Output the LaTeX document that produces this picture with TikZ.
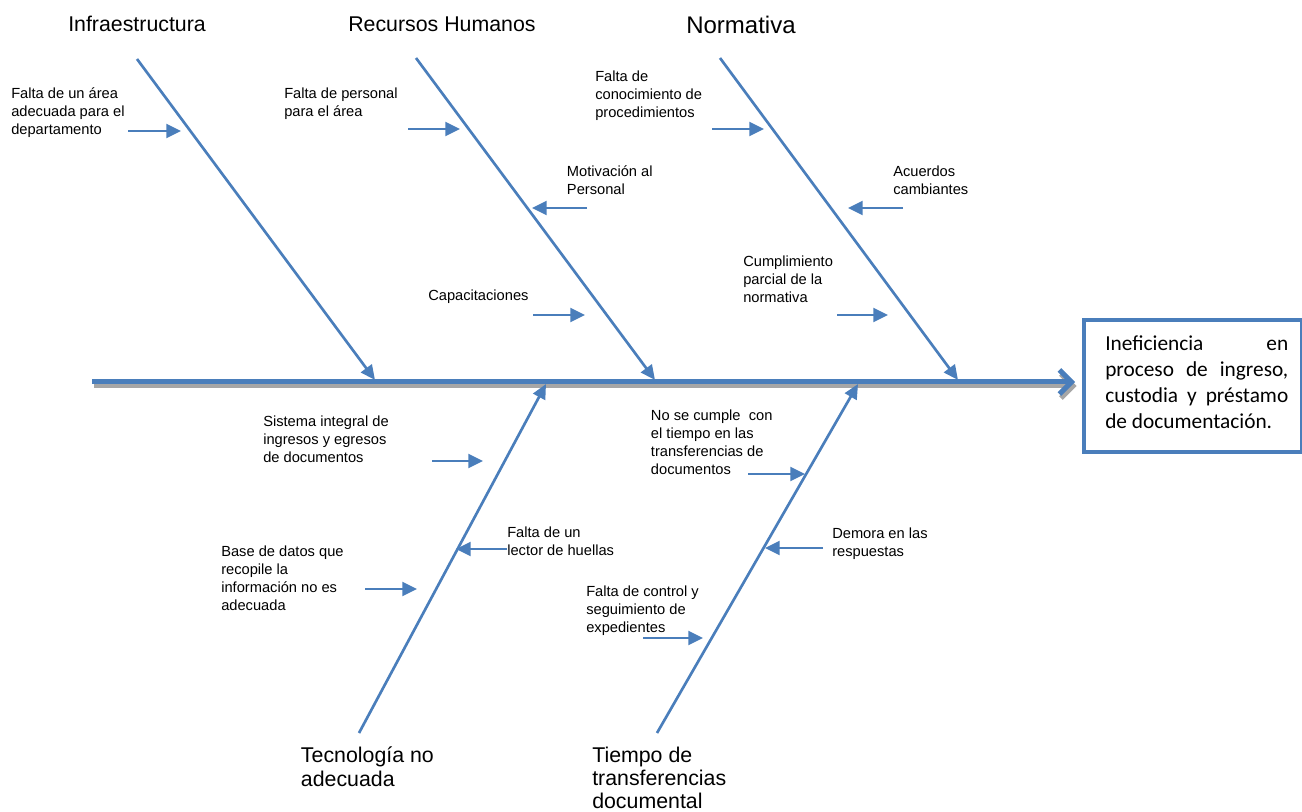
\documentclass[tikz,border=0pt]{standalone}
\usepackage{fontspec}
\setmainfont{Liberation Sans}
\newfontfamily\boxfont{Carlito}
\usetikzlibrary{arrows.meta}
\definecolor{boneblue}{HTML}{4A7EBB}
\definecolor{shadowgray}{HTML}{A6A6A6}
\newlength{\effectw}
\setlength{\effectw}{137.25pt}
\begin{document}
\begin{tikzpicture}[x=0.75pt,y=-0.75pt,
  % multi-line labels are placed by the baseline of their last line
  item/.style={anchor=base west,inner sep=0pt,align=left,
    font=\fontsize{11}{13.7}\selectfont},
  cat/.style={anchor=base west,inner sep=0pt,align=left,
    font=\fontsize{16}{17.4}\selectfont},
  bone/.style={draw=boneblue,line width=2pt,
    -{Triangle[length=11pt,width=10pt]}},
  cause/.style={draw=boneblue,line width=1.6pt,
    -{Triangle[length=11pt,width=10.5pt]}},
  spine/.style={line width=3.75pt,
    -{Straight Barb[length=9pt,width=18pt]}},
  effectbox/.style={draw=boneblue,line width=3pt,inner sep=0pt}]
\useasboundingbox (0,0) rectangle (1302,812);

% effect box
\node[effectbox,minimum width=163.9pt,minimum height=98.6pt,
  anchor=north west] (effbox) at (1081.5,318.5) {};
\node[anchor=base west,inner sep=0pt,align=left,
  font=\boxfont\fontsize{16}{19.4}\selectfont] (effect) at (1105,428.3)
  {\makebox[\effectw][s]{Ineficiencia en}\\
   \makebox[\effectw][s]{proceso de ingreso,}\\
   \makebox[\effectw][s]{custodia y préstamo}\\
   de documentación.};

% spine with its shadow
\coordinate (tail) at (92,382);
\coordinate (head) at (1075,382);
\coordinate (tailsh) at (93.5,386);
\coordinate (headsh) at (1076.5,386);
\draw[spine,draw=shadowgray] (tailsh) -- (headsh);
\draw[spine,draw=boneblue] (tail) -- (head);

% main bones
\coordinate (infraA) at (137,59);   \coordinate (infraB) at (375,380);
\coordinate (rhA) at (416,58);      \coordinate (rhB) at (655,380);
\coordinate (normA) at (720,58);    \coordinate (normB) at (958,380);
\coordinate (tecA) at (359,733);    \coordinate (tecB) at (546,384);
\coordinate (tiemA) at (657,733);   \coordinate (tiemB) at (858,384);
\draw[bone] (infraA) -- (infraB);
\draw[bone] (rhA) -- (rhB);
\draw[bone] (normA) -- (normB);
\draw[bone] (tecA) -- (tecB);
\draw[bone] (tiemA) -- (tiemB);

% category titles
\node[cat] (tInfra) at (68,31.7) {Infraestructura};
\node[cat] (tRH) at (348,31.7) {Recursos Humanos};
\node[cat,font=\fontsize{18}{20}\selectfont] (tNorm) at (686,34) {Normativa};
\node[cat] (tTec) at (300.7,786) {Tecnología no\\adecuada};
\node[cat] (tTiem) at (592,808.5) {Tiempo de\\transferencias\\documental};

% causes: labels
\node[item] (c1) at (11,134.6) {Falta de un área\\adecuada para el\\departamento};
\node[item] (c2) at (284,116.3) {Falta de personal\\para el área};
\node[item] (c3) at (566.7,194.3) {Motivación al\\Personal};
\node[item] (c4) at (428,301) {Capacitaciones};
\node[item] (c5) at (595,117.6) {Falta de\\conocimiento de\\procedimientos};
\node[item] (c6) at (893,194.3) {Acuerdos\\cambiantes};
\node[item] (c7) at (743,302.6) {Cumplimiento\\parcial de la\\normativa};
\node[item] (c8) at (263,462.6) {Sistema integral de\\ingresos y egresos\\de documentos};
\node[item] (c9) at (221,610.9) {Base de datos que\\recopile la\\información no es\\adecuada};
\node[item] (c10) at (507,555.3) {Falta de un\\lector de huellas};
\node[item] (c11) at (650.7,474.9) {No se cumple\ \ con\\el tiempo en las\\transferencias de\\documentos};
\node[item] (c12) at (832,556.3) {Demora en las\\respuestas};
\node[item] (c13) at (586,632.6) {Falta de control y\\seguimiento de\\expedientes};

% causes: arrows
\coordinate (a1s) at (128,131);   \coordinate (a1e) at (181,131);
\coordinate (a2s) at (408,129);   \coordinate (a2e) at (460,129);
\coordinate (a3s) at (587,208);   \coordinate (a3e) at (532,208);
\coordinate (a4s) at (533,315);   \coordinate (a4e) at (585,315);
\coordinate (a5s) at (712,129);   \coordinate (a5e) at (764,129);
\coordinate (a6s) at (903,208);   \coordinate (a6e) at (848,208);
\coordinate (a7s) at (837,315);   \coordinate (a7e) at (888,315);
\coordinate (a8s) at (432,461);   \coordinate (a8e) at (483,461);
\coordinate (a9s) at (365,589);   \coordinate (a9e) at (417,589);
\coordinate (a10s) at (507,549);  \coordinate (a10e) at (456,549);
\coordinate (a11s) at (748,474);  \coordinate (a11e) at (805,474);
\coordinate (a12s) at (823,548);  \coordinate (a12e) at (765,548);
\coordinate (a13s) at (643,638);  \coordinate (a13e) at (703,638);
\foreach \i in {1,...,13} {\draw[cause] (a\i s) -- (a\i e);}
\end{tikzpicture}
\end{document}
